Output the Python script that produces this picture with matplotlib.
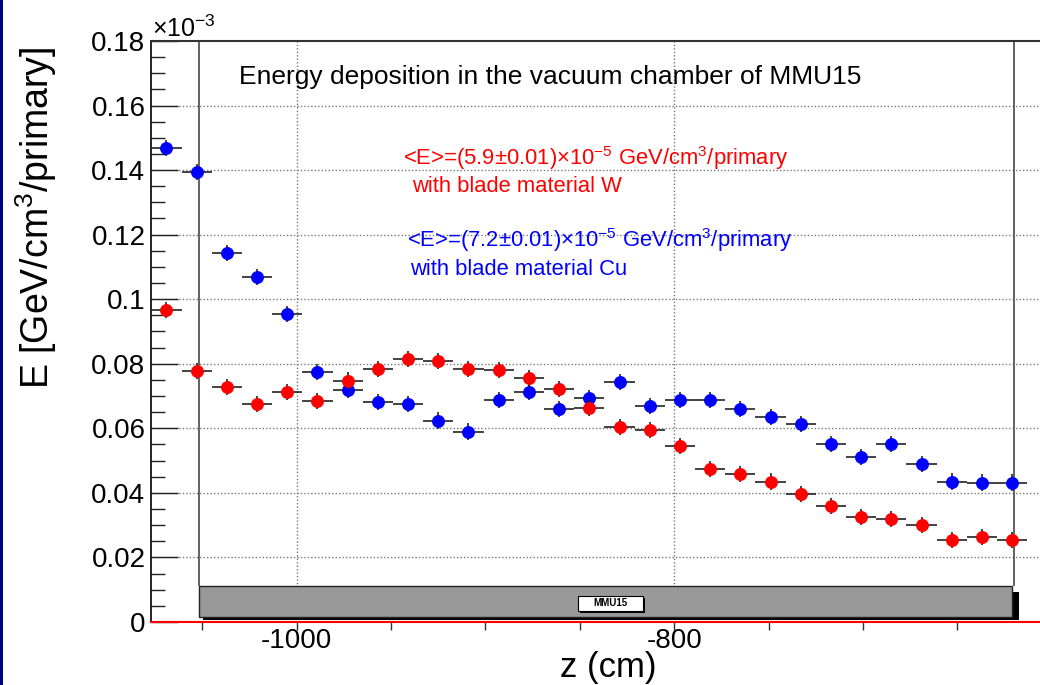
import matplotlib
matplotlib.use("Agg")
import matplotlib.pyplot as plt
from matplotlib.patches import Rectangle
from matplotlib.ticker import FixedLocator, FixedFormatter, MultipleLocator

plt.rcParams['font.family'] = ['Liberation Sans', 'DejaVu Sans']
plt.rcParams['mathtext.fontset'] = 'custom'
plt.rcParams['mathtext.rm'] = 'Liberation Sans'
plt.rcParams['mathtext.it'] = 'Liberation Sans:italic'
plt.rcParams['mathtext.bf'] = 'Liberation Sans:bold'

# Bin centres along the beam line (cm), 16 cm bins
z_cm = [-1069, -1053, -1037, -1021, -1005, -989, -973, -957, -941, -925,
        -909, -893, -877, -861, -845, -829, -813, -797, -781, -765,
        -749, -733, -717, -701, -685, -669, -653, -637, -621]
bin_half_width = 8

# Energy deposition per bin, in units of 1e-3 GeV/cm^3/primary
e_tungsten = [0.0966, 0.0778, 0.0727, 0.0676, 0.0713, 0.0685, 0.0748, 0.0785,
              0.0814, 0.0808, 0.0783, 0.0780, 0.0755, 0.0721, 0.0664, 0.0605,
              0.0595, 0.0546, 0.0474, 0.0459, 0.0435, 0.0397, 0.0359, 0.0325,
              0.0319, 0.0300, 0.0254, 0.0263, 0.0254]
e_copper = [0.1468, 0.1395, 0.1142, 0.1070, 0.0954, 0.0775, 0.0718, 0.0682,
            0.0676, 0.0624, 0.0590, 0.0687, 0.0713, 0.0661, 0.0693, 0.0744,
            0.0670, 0.0688, 0.0688, 0.0659, 0.0634, 0.0613, 0.0552, 0.0510,
            0.0551, 0.0490, 0.0435, 0.0432, 0.0432]
stat_err = 0.0025

# Magnet MMU15 extent along z (cm)
magnet_entry = -1052
magnet_exit = -620

y_ticks = [0, 0.02, 0.04, 0.06, 0.08, 0.10, 0.12, 0.14, 0.16, 0.18]
y_tick_labels = ['0', '0.02', '0.04', '0.06', '0.08', '0.1', '0.12', '0.14', '0.16', '0.18']
x_ticks = [-1050, -1000, -950, -900, -850, -800, -750, -700, -650]
x_tick_labels = ['', '-1000', '', '', '', '-800', '', '', '']
x_grid = [-1000, -800]

fig = plt.figure(figsize=(10.4, 6.85), dpi=100)
ax = fig.add_axes([0.1452, 0.0920, 0.8661, 0.8482])
ax.set_xlim(-1077.2, -600.0)
ax.set_ylim(0, 0.18)

# dotted grid
for yv in y_ticks[1:-1]:
    ax.axhline(yv, color='#777777', lw=1.0, ls=(0, (1, 1.5)), zorder=0)
for xv in x_grid:
    ax.axvline(xv, color='#777777', lw=1.0, ls=(0, (1, 1.5)), zorder=0)

# magnet boundaries
ax.vlines([magnet_entry, magnet_exit], 0.0112, 0.18, color='#555555', lw=1.3, zorder=1)

# magnet body with drop shadow
ax.add_patch(Rectangle((magnet_entry + 2.1, 0.0006), magnet_exit - magnet_entry + 0.4, 0.0087,
                       facecolor='black', edgecolor='none', zorder=2))
ax.add_patch(Rectangle((magnet_entry, 0.0015), magnet_exit - magnet_entry - 1.2, 0.0097,
                       facecolor='#999999', edgecolor='#222222', lw=1.0, zorder=3))
# name tag
ax.add_patch(Rectangle((-849.9, 0.0029), 34.4, 0.0046, facecolor='black',
                       edgecolor='none', zorder=4))
ax.add_patch(Rectangle((-851.0, 0.0035), 34.4, 0.0046, facecolor='white',
                       edgecolor='black', lw=0.8, zorder=5))
ax.text(-833.8, 0.0058, 'MMU15', fontsize=7, fontweight='bold', ha='center',
        va='center', zorder=6)

# data
ax.errorbar(z_cm, e_copper, xerr=bin_half_width, yerr=stat_err, fmt='o', color='#0000ff',
            markersize=8.3, ecolor='#222222', elinewidth=1.2, capsize=0, zorder=7)
ax.errorbar(z_cm, e_tungsten, xerr=bin_half_width, yerr=stat_err, fmt='o', color='#ff0000',
            markersize=8.3, ecolor='#222222', elinewidth=1.2, capsize=0, zorder=8)

# axes styling
ax.spines['right'].set_visible(False)
ax.spines['left'].set_color('black')
ax.spines['left'].set_linewidth(1.2)
ax.spines['top'].set_color('#333333')
ax.spines['top'].set_linewidth(1.5)
ax.spines['bottom'].set_color('#ff0000')
ax.spines['bottom'].set_linewidth(1.5)

ax.yaxis.set_major_locator(FixedLocator(y_ticks))
ax.yaxis.set_major_formatter(FixedFormatter(y_tick_labels))
ax.yaxis.set_minor_locator(MultipleLocator(0.005))
ax.tick_params(axis='y', which='major', direction='in', length=19.5, width=1.0,
               color='#222222', labelsize=20, pad=4)
ax.tick_params(axis='y', which='minor', direction='in', length=10, width=1.0,
               color='#222222')
ax.xaxis.set_major_locator(FixedLocator(x_ticks))
ax.xaxis.set_major_formatter(FixedFormatter(x_tick_labels))
ax.tick_params(axis='x', which='major', direction='out', length=6, width=1.0,
               color='#333333', labelsize=20, pad=-2)

ax.text(-0.128, 0.99, 'E [GeV/cm$^{3}$/primary]', rotation=90, fontsize=27,
        ha='center', va='top', transform=ax.transAxes)
fig.text(608 / 1040, 1 - 667 / 685, 'z (cm)', fontsize=25, ha='center', va='center')
fig.text(152 / 1040, 1 - 37 / 685, '\u00d710$^{-3}$', fontsize=18, ha='left', va='baseline')

fig.text(239 / 1040, 1 - 84 / 685, 'Energy deposition in the vacuum chamber of MMU15',
         fontsize=19, ha='left', va='baseline')
fig.text(403 / 1040, 1 - 165 / 685,
         '<E>=(5.9\u00b10.01)\u00d710$^{-5}$ GeV/cm$^{3}$/primary',
         fontsize=15.8, color='#ff0000', ha='left', va='baseline')
fig.text(412 / 1040, 1 - 192 / 685, 'with blade material W',
         fontsize=15.8, color='#ff0000', ha='left', va='baseline')
fig.text(407 / 1040, 1 - 247 / 685,
         '<E>=(7.2\u00b10.01)\u00d710$^{-5}$ GeV/cm$^{3}$/primary',
         fontsize=15.8, color='#0000ff', ha='left', va='baseline')
fig.text(410 / 1040, 1 - 275 / 685, 'with blade material Cu',
         fontsize=15.8, color='#0000ff', ha='left', va='baseline')

# window border
fig.add_artist(Rectangle((0, 0), 2.5 / 1040, 1, transform=fig.transFigure,
                         facecolor='#000080', edgecolor='none'))

fig.savefig('out.png', dpi=100)
